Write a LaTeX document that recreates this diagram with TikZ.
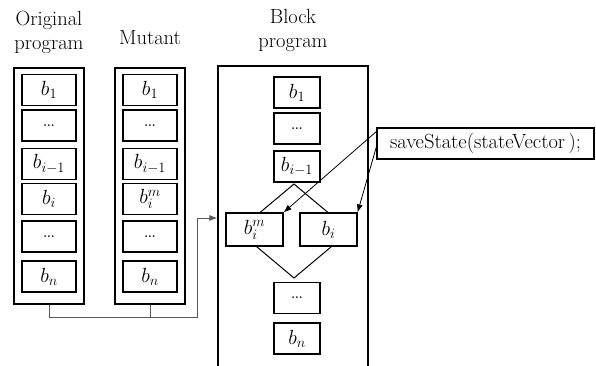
\documentclass[tikz,border=0pt]{standalone}
\usepackage{fix-cm}
\usepackage{tikz}
\usetikzlibrary{calc}
\usetikzlibrary{arrows.meta}

\begin{document}
\begin{tikzpicture}[
        x=1pt, y=-1pt,
        every node/.style={inner sep=0pt, font=\fontsize{20.5}{24}\selectfont},
        blk/.style={draw, line width=1.1pt, minimum width=54pt, minimum height=31pt},
        frame/.style={draw, line width=1.2pt, minimum width=70pt, minimum height=236pt},
        title/.style={align=center},
        dotsbox/.style={blk, font=\fontsize{12}{12}\selectfont\bfseries},
        conn/.style={black!65, line width=0.9pt},
        >={Latex[length=8pt,width=6pt]}
    ]
        \useasboundingbox (0,0) rectangle (596,365);

        % titles
        \node[title] (torig) at (49,32) {Original\\program};
        \node[title] (tmut) at (150,38) {Mutant};
        \node[title] (tblock) at (293,30) {Block\\program};

        % original program
        \node[frame] (orig) at (49,186) {};
        \node[blk] (o1) at (49,90) {$b_1$};
        \node[dotsbox] (o2) at (49,125.5) {...};
        \node[blk] (o3) at (49,164) {$b_{i-1}$};
        \node[blk] (o4) at (49,199) {$b_i$};
        \node[dotsbox] (o5) at (49,236.5) {...};
        \node[blk] (o6) at (49,276.5) {$b_n$};

        % mutant
        \node[frame] (mut) at (150,186) {};
        \node[blk] (m1) at (150,90) {$b_1$};
        \node[dotsbox] (m2) at (150,125.5) {...};
        \node[blk] (m3) at (150,164) {$b_{i-1}$};
        \node[blk] (m4) at (150,199) {$b_i^m$};
        \node[dotsbox] (m5) at (150,236.5) {...};
        \node[blk] (m6) at (150,276.5) {$b_n$};

        % block program
        \node[frame, minimum width=150pt, minimum height=304pt] (block) at (293,218) {};
        \node[blk, minimum width=46pt] (k1) at (297,92.5) {$b_1$};
        \node[dotsbox, minimum width=46pt] (k2) at (297,128.5) {...};
        \node[blk, minimum width=46pt] (k3) at (297,166.5) {$b_{i-1}$};
        \coordinate (dtop) at (294,184);
        \coordinate (dleft) at (238,231);
        \coordinate (dbot) at (294,278);
        \coordinate (dright) at (350,231);
        \draw[line width=1pt] (dtop) -- (dright) -- (dbot) -- (dleft) -- cycle;
        \node[blk, fill=white, minimum width=57pt, minimum height=33pt] (kim) at (254.5,229.5) {$b_i^m$};
        \node[blk, fill=white, minimum width=57pt, minimum height=33pt] (ki) at (328.5,229.5) {$b_i$};
        \node[dotsbox, minimum width=46pt] (k5) at (297,298) {...};
        \node[blk, minimum width=46pt] (k6) at (297,338.5) {$b_n$};

        \node[blk, minimum width=217pt] (save) at (485.5,143.5) {saveState(stateVector\,);};

        % connectors
        \coordinate (turn) at (197,317);
        \draw[conn,->] (orig.south) |- (turn) |- (block.west);
        \draw[conn] (mut.south) -- (mut.south |- turn);
        \draw[->, line width=0.8pt] ([yshift=-4pt]save.north west) -- (kim.north east);
        \draw[->, line width=0.8pt] ([yshift=-3pt]save.west) -- (ki.north east);
    \end{tikzpicture}
\end{document}
